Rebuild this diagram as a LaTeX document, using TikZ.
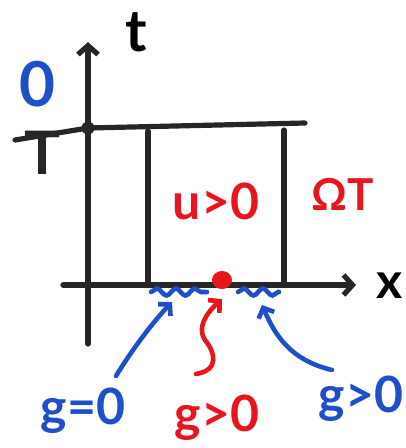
\documentclass[tikz,border=0pt]{standalone}
\usepackage{fontspec}
\setmainfont{Lato}
\usetikzlibrary{arrows.meta, positioning, decorations.pathmorphing}
\definecolor{InkBlue}{HTML}{1F4FC8}
\definecolor{InkRed}{HTML}{E8141E}
\definecolor{InkBlack}{HTML}{262626}

\begin{document}
\begin{tikzpicture}[x=1pt, y=-1pt,
        ink/.style={line width=5.2pt, line cap=round, InkBlack},
        axis/.style={ink, -{Straight Barb[length=9pt, width=20pt]}},
        hand/.style={inner sep=0pt, font=\bfseries\fontsize{50}{50}\selectfont},
        arrow/.style={-{Straight Barb[length=8pt, width=17pt]}, line width=4.6pt, line cap=round},
        wavy/.style={InkBlue, line width=4.6pt, line cap=round, decorate, decoration={snake, amplitude=3.5pt, segment length=19pt}}]

        \useasboundingbox (0,0) rectangle (406,448);

        % axes and the strip
        \coordinate (tbot) at (88,344);
        \coordinate (ttop) at (88,42);
        \coordinate (xleft) at (63,285);
        \coordinate (xright) at (356,285);
        \coordinate (topL) at (15,140);
        \coordinate (topR) at (305,123);
        \coordinate (apex) at (88,128);
        \coordinate (omL) at (148,285);
        \coordinate (omR) at (284,285);

        \draw[axis] (tbot) -- (ttop);
        \draw[axis] (xleft) -- (xright);
        \draw[ink] (topL) -- (apex) -- (topR);
        \draw[ink] (omL) -- (148,131);
        \draw[ink] (omR) -- (284,130);
        \fill[InkBlack] (apex) circle (6.5pt);

        \node[hand, font=\bfseries\fontsize{58}{58}\selectfont] (tlab) at (136,32) {t};
        \node[hand, font=\bfseries\fontsize{50}{50}\selectfont] (xlab) at (390,286) {x};
        \node[hand, InkBlue, font=\bfseries\fontsize{62}{62}\selectfont] (zero) at (37,84) {0};
        \node[hand, InkBlack, font=\bfseries\fontsize{60}{60}\selectfont, anchor=north] (Tlab) at (42,131) {T};
        \node[hand, InkRed, font=\bfseries\fontsize{50}{50}\selectfont] (ulab) at (216,201) {u>0};
        \node[hand, InkRed, font=\bfseries\fontsize{44}{44}\selectfont] (omega) at (343,194) {ΩT};

        % boundary data
        \draw[wavy] (151,292) -- (207,292);
        \draw[wavy] (238,292) -- (279,292);
        \fill[InkRed] (222,280) ellipse (10pt and 9pt);

        \node[hand, InkBlue] (gzero) at (83,411) {g=0};
        \node[hand, InkRed] (gpos) at (217,418) {g>0};
        \node[hand, InkBlue] (gright) at (361,399) {g>0};

        \coordinate (hitL) at (172,302);
        \coordinate (hitM) at (222,299);
        \coordinate (hitR) at (262,305);

        \draw[arrow, InkBlue] (116,376) .. controls (135,345) and (155,320) .. (hitL);
        \draw[arrow, InkRed] (196,374) .. controls (220,370) and (215,352) .. (205,340) .. controls (195,325) and (212,308) .. (hitM);
        \draw[arrow, InkBlue] (332,370) .. controls (290,360) and (275,335) .. (hitR);
\end{tikzpicture}
\end{document}
